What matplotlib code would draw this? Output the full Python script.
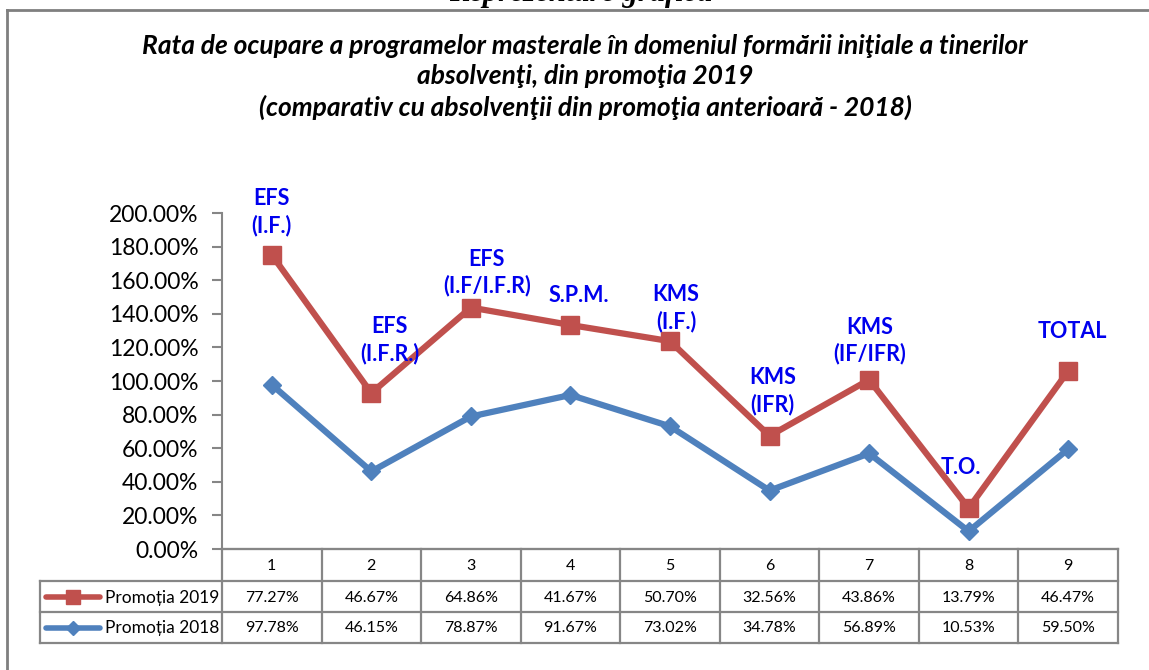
import numpy as np
import matplotlib
matplotlib.use("Agg")
import matplotlib.pyplot as plt
from matplotlib.lines import Line2D

# ---- data ----
categories = ["1", "2", "3", "4", "5", "6", "7", "8", "9"]
promo_2019 = [77.27, 46.67, 64.86, 41.67, 50.70, 32.56, 43.86, 13.79, 46.47]
promo_2018 = [97.78, 46.15, 78.87, 91.67, 73.02, 34.78, 56.89, 10.53, 59.50]
point_labels = ["EFS\n(I.F.)", "EFS\n(I.F.R.)", "EFS\n(I.F/I.F.R)", "S.P.M.",
                "KMS\n(I.F.)", "KMS\n(IFR)", "KMS\n(IF/IFR)", "T.O.", "TOTAL"]
yticks = [0, 20, 40, 60, 80, 100, 120, 140, 160, 180, 200]
series_names = ["Promoția 2019", "Promoția 2018"]
title = ("Rata de ocupare a programelor masterale în domeniul formării iniţiale a tinerilor\n"
         "absolvenţi, din promoţia 2019\n"
         "(comparativ cu absolvenţii din promoţia anterioară - 2018)")
heading = "Reprezentare grafică"

# label offsets in pixels (dx, dy) relative to the red markers
label_offsets = [(0, 43), (18, 53), (16, 35), (8, 29), (6, 33), (3, 45), (1, 39), (-8, 41), (4, 39)]

RED = "#C0504D"
BLUE = "#4F81BD"
GRID = "#868686"
FONT = "Lato"

W, H = 1149, 670
fig = plt.figure(figsize=(W / 100, H / 100), dpi=100)
fig.patch.set_facecolor("white")

def fx(px):
    return px / W

def fy(py):
    return 1 - py / H

# main axes: x 222..1118, y 213..549
ax_l, ax_r, ax_t, ax_b = 222, 1118, 213, 549
ax = fig.add_axes([fx(ax_l), fy(ax_b), fx(ax_r - ax_l), (ax_b - ax_t) / H])
x = np.arange(1, len(categories) + 1)
red_vals = np.add(promo_2018, promo_2019)  # stacked line as in original chart

ax.plot(x, promo_2018, color=BLUE, lw=4.5, marker="D", ms=9.5, mfc=BLUE, mec=BLUE,
        solid_joinstyle="round", zorder=3)
ax.plot(x, red_vals, color=RED, lw=4.5, marker="s", ms=12.5, mfc=RED, mec=RED,
        solid_joinstyle="round", zorder=4)

ax.set_xlim(0.5, len(categories) + 0.5)
ax.set_ylim(0, 200)
ax.set_yticks(yticks)
ax.set_yticklabels([f"{v:.2f}%" for v in yticks], fontfamily=FONT, fontsize=16.5)
ax.set_xticks([])
for s in ["top", "right"]:
    ax.spines[s].set_visible(False)
ax.spines["left"].set_color(GRID)
ax.spines["left"].set_linewidth(1.5)
ax.spines["bottom"].set_color(GRID)
ax.spines["bottom"].set_linewidth(1.5)
ax.tick_params(axis="y", length=7, width=1.5, color=GRID, pad=10, direction="out")
ax.patch.set_alpha(0)

for xi, yi, lab, (dx, dy) in zip(x, red_vals, point_labels, label_offsets):
    ax.annotate(lab, (xi, yi), xytext=(dx * 0.72, dy * 0.72), textcoords="offset points",
                ha="center", va="center", color="#0000EE", fontweight="bold",
                fontfamily=FONT, fontsize=15.5, linespacing=1.3, zorder=5,
                annotation_clip=False)

# overlay axes in pixel coords for table, frame, title
ov = fig.add_axes([0, 0, 1, 1], zorder=-1)
ov.set_xlim(0, W)
ov.set_ylim(H, 0)
ov.axis("off")

fig.canvas.draw()
def col_px(v):
    disp = ax.transData.transform((v, 0))
    return ov.transData.inverted().transform(disp)[0]

bounds = [col_px(v) for v in np.arange(0.5, len(categories) + 1, 1.0)]
centers = [col_px(v) for v in x]
row_y = [549, 581, 612, 643]
leg_l = 40
lw_t = 1.6
# horizontal lines
ov.plot([bounds[0], bounds[-1]], [row_y[0]] * 2, color=GRID, lw=lw_t)
for yy in row_y[1:]:
    ov.plot([leg_l, bounds[-1]], [yy] * 2, color=GRID, lw=lw_t)
# vertical lines
for b in bounds:
    ov.plot([b, b], [row_y[0], row_y[-1]], color=GRID, lw=lw_t)
ov.plot([leg_l, leg_l], [row_y[1], row_y[-1]], color=GRID, lw=lw_t)

for c, cat in zip(centers, categories):
    ov.text(c, (row_y[0] + row_y[1]) / 2 + 1, cat, ha="center", va="center",
            fontfamily=FONT, fontsize=11.5)
for row, vals in enumerate([promo_2019, promo_2018]):
    yc = (row_y[row + 1] + row_y[row + 2]) / 2 + 1
    for c, v in zip(centers, vals):
        ov.text(c, yc, f"{v:.2f}%", ha="center", va="center", fontfamily=FONT, fontsize=11.5)

# legend keys in table
for row, (name, col, mk, ms) in enumerate(zip(series_names, [RED, BLUE], ["s", "D"], [10, 7])):
    yc = (row_y[row + 1] + row_y[row + 2]) / 2
    ov.add_line(Line2D([46, 100], [yc, yc], color=col, lw=4, solid_capstyle="round"))
    ov.add_line(Line2D([73], [yc], marker=mk, ms=ms, color=col, mec=col))
    ov.text(105, yc + 1, name, ha="left", va="center", fontfamily=FONT, fontsize=12.5)

# outer frame
ov.plot([7, 7], [10, H + 5], color="#7F7F7F", lw=2)
ov.plot([7, W + 5], [10, 10], color="#7F7F7F", lw=2)

# heading above the frame (cut off at the top edge, as in the source)
ov.text(581, 1.5, heading, ha="center", va="baseline", fontfamily="Liberation Serif",
        fontstyle="italic", fontweight="bold", fontsize=22)

# title
fig.text(fx(585), fy(77), title, ha="center", va="center", fontfamily=FONT,
         fontstyle="italic", fontweight="bold", fontsize=19, linespacing=1.3)

fig.savefig("out.png", dpi=100, facecolor="white")
